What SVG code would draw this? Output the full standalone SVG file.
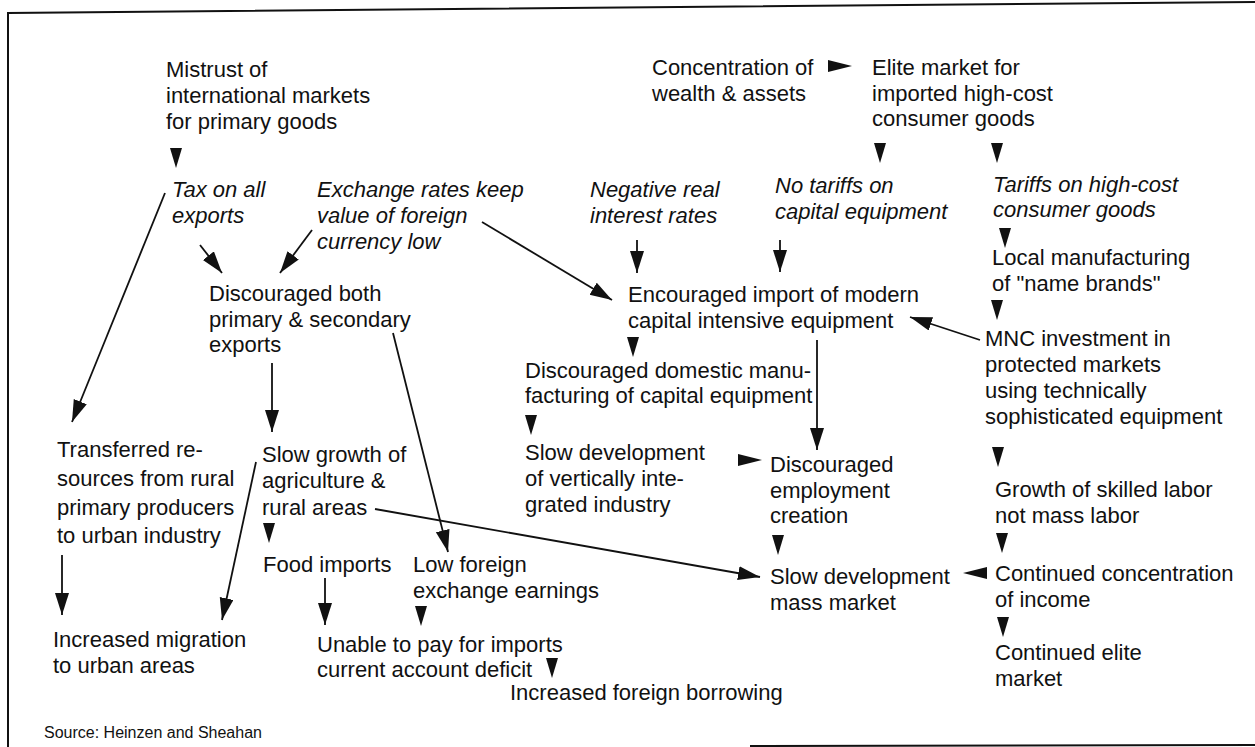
<svg xmlns="http://www.w3.org/2000/svg" width="1255" height="747" viewBox="0 0 1255 747">
<style>
text{font-family:"Liberation Sans",Arial,Helvetica,sans-serif;font-size:22px;fill:#111}
.it{font-style:italic}
.src{font-size:16px}
.ln{stroke:#111;stroke-width:1.8;fill:none}
.frame{stroke:#111;stroke-width:2;fill:none}
.hd{fill:#111}
</style>
<defs>
<marker id="ah" markerUnits="userSpaceOnUse" markerWidth="24" markerHeight="16" refX="22" refY="7" orient="auto">
<path d="M0,0 L22,7 L0,14 Z" fill="#111"/>
</marker>
<path id="tdown" d="M-6,0 L6,0 L0,20 Z"/>
<path id="tright" d="M0,-6 L24,0 L0,6 Z"/>
<path id="tleft" d="M0,-6 L-24,0 L0,6 Z"/>
</defs>
<rect width="1255" height="747" fill="#fff"/>
<g id="frame">
<path class="frame" d="M8,747 L8,13 L1255,2"/>
<path class="frame" d="M750,746 L1255,745"/>
</g>
<g id="connectors">
<line class="ln" x1="165" y1="193" x2="72" y2="422" marker-end="url(#ah)"/>
<line class="ln" x1="200" y1="245" x2="222" y2="273" marker-end="url(#ah)"/>
<line class="ln" x1="312" y1="230" x2="280" y2="273" marker-end="url(#ah)"/>
<line class="ln" x1="482" y1="222" x2="612" y2="300" marker-end="url(#ah)"/>
<line class="ln" x1="637" y1="240" x2="637" y2="273" marker-end="url(#ah)"/>
<line class="ln" x1="780" y1="240" x2="780" y2="272" marker-end="url(#ah)"/>
<line class="ln" x1="980" y1="340" x2="910" y2="317" marker-end="url(#ah)"/>
<line class="ln" x1="817" y1="340" x2="817" y2="450" marker-end="url(#ah)"/>
<line class="ln" x1="272" y1="363" x2="272" y2="432" marker-end="url(#ah)"/>
<line class="ln" x1="393" y1="333" x2="448" y2="552" marker-end="url(#ah)"/>
<line class="ln" x1="256" y1="462" x2="222" y2="620" marker-end="url(#ah)"/>
<line class="ln" x1="62" y1="555" x2="62" y2="615" marker-end="url(#ah)"/>
<line class="ln" x1="375" y1="509" x2="760" y2="577" marker-end="url(#ah)"/>
<line class="ln" x1="325" y1="578" x2="325" y2="625" marker-end="url(#ah)"/>
<g class="hd">
<use href="#tdown" x="176" y="148"/>
<use href="#tdown" x="880" y="143"/>
<use href="#tdown" x="997" y="143"/>
<use href="#tdown" x="1005" y="228"/>
<use href="#tdown" x="997" y="300"/>
<use href="#tdown" x="998" y="447"/>
<use href="#tdown" x="1002" y="533"/>
<use href="#tdown" x="1003" y="617"/>
<use href="#tdown" x="633" y="337"/>
<use href="#tdown" x="531" y="415"/>
<use href="#tdown" x="778" y="535"/>
<use href="#tdown" x="269" y="523"/>
<use href="#tdown" x="421" y="606"/>
<use href="#tdown" x="552" y="658"/>
<use href="#tright" x="828" y="66"/>
<use href="#tright" x="738" y="460"/>
<use href="#tleft" x="987" y="573"/>
</g>
</g>
<g id="n-mistrust"><text><tspan x="166" y="77">Mistrust of</tspan><tspan x="166" y="103">international markets</tspan><tspan x="166" y="129">for primary goods</tspan></text></g>
<g id="n-tax"><text class="it"><tspan x="172" y="197">Tax on all</tspan><tspan x="172" y="223">exports</tspan></text></g>
<g id="n-exchange"><text class="it"><tspan x="317" y="197">Exchange rates keep</tspan><tspan x="317" y="223">value of foreign</tspan><tspan x="317" y="249">currency low</tspan></text></g>
<g id="n-concentration"><text><tspan x="652" y="75">Concentration of</tspan><tspan x="652" y="101">wealth &amp; assets</tspan></text></g>
<g id="n-elite"><text><tspan x="872" y="75">Elite market for</tspan><tspan x="872" y="101">imported high-cost</tspan><tspan x="872" y="126">consumer goods</tspan></text></g>
<g id="n-negative"><text class="it"><tspan x="590" y="197">Negative real</tspan><tspan x="590" y="223">interest rates</tspan></text></g>
<g id="n-notariffs"><text class="it"><tspan x="775" y="193">No tariffs on</tspan><tspan x="775" y="219">capital equipment</tspan></text></g>
<g id="n-tariffs"><text class="it"><tspan x="993" y="192">Tariffs on high-cost</tspan><tspan x="993" y="217">consumer goods</tspan></text></g>
<g id="n-local"><text><tspan x="992" y="265">Local manufacturing</tspan><tspan x="992" y="291">of "name brands"</tspan></text></g>
<g id="n-mnc"><text><tspan x="985" y="346">MNC investment in</tspan><tspan x="985" y="372">protected markets</tspan><tspan x="985" y="398">using technically</tspan><tspan x="985" y="424">sophisticated equipment</tspan></text></g>
<g id="n-skilled"><text><tspan x="995" y="497">Growth of skilled labor</tspan><tspan x="995" y="523">not mass labor</tspan></text></g>
<g id="n-income"><text><tspan x="995" y="581">Continued concentration</tspan><tspan x="995" y="607">of income</tspan></text></g>
<g id="n-elite2"><text><tspan x="995" y="660">Continued elite</tspan><tspan x="995" y="686">market</tspan></text></g>
<g id="n-massmarket"><text><tspan x="770" y="584">Slow development</tspan><tspan x="770" y="610">mass market</tspan></text></g>
<g id="n-employment"><text><tspan x="770" y="472">Discouraged</tspan><tspan x="770" y="498">employment</tspan><tspan x="770" y="523">creation</tspan></text></g>
<g id="n-encouraged"><text><tspan x="628" y="302">Encouraged import of modern</tspan><tspan x="628" y="328">capital intensive equipment</tspan></text></g>
<g id="n-domestic"><text><tspan x="525" y="378">Discouraged domestic manu-</tspan><tspan x="525" y="403">facturing of capital equipment</tspan></text></g>
<g id="n-vertical"><text><tspan x="525" y="460">Slow development</tspan><tspan x="525" y="486">of vertically inte-</tspan><tspan x="525" y="512">grated industry</tspan></text></g>
<g id="n-exports"><text><tspan x="209" y="301">Discouraged both</tspan><tspan x="209" y="327">primary &amp; secondary</tspan><tspan x="209" y="352">exports</tspan></text></g>
<g id="n-transferred"><text><tspan x="57" y="457">Transferred re-</tspan><tspan x="57" y="486">sources from rural</tspan><tspan x="57" y="515">primary producers</tspan><tspan x="57" y="543">to urban industry</tspan></text></g>
<g id="n-migration"><text><tspan x="53" y="647">Increased migration</tspan><tspan x="53" y="673">to urban areas</tspan></text></g>
<g id="n-slowgrowth"><text><tspan x="262" y="462">Slow growth of</tspan><tspan x="262" y="488">agriculture &amp;</tspan><tspan x="262" y="515">rural areas</tspan></text></g>
<g id="n-food"><text><tspan x="263" y="572">Food imports</tspan></text></g>
<g id="n-lowforeign"><text><tspan x="413" y="572">Low foreign</tspan><tspan x="413" y="598">exchange earnings</tspan></text></g>
<g id="n-unable"><text><tspan x="317" y="652">Unable to pay for imports</tspan><tspan x="317" y="677">current account deficit</tspan></text></g>
<g id="n-borrowing"><text><tspan x="510" y="700">Increased foreign borrowing</tspan></text></g>
<g id="source"><text class="src" x="44" y="738">Source:  Heinzen and Sheahan</text></g>
</svg>
